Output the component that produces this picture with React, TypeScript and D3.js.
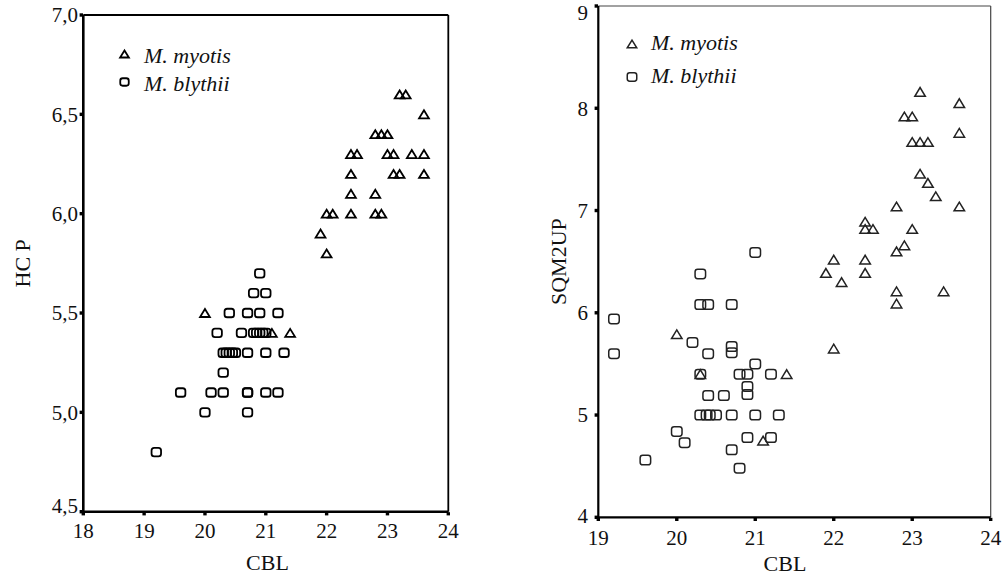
import React from "react";
import * as d3 from "d3";

// ---------- DATA ----------
// Left panel: HCP vs CBL
const hcpMyotis: [number, number][] = [
  [23.2, 6.6], [23.3, 6.6], [23.6, 6.5],
  [22.8, 6.4], [22.9, 6.4], [23.0, 6.4],
  [22.4, 6.3], [22.5, 6.3], [23.0, 6.3], [23.1, 6.3], [23.4, 6.3], [23.6, 6.3],
  [22.4, 6.2], [23.1, 6.2], [23.2, 6.2], [23.6, 6.2],
  [22.4, 6.1], [22.8, 6.1],
  [22.0, 6.0], [22.1, 6.0], [22.4, 6.0], [22.8, 6.0], [22.9, 6.0],
  [21.9, 5.9], [22.0, 5.8],
  [20.0, 5.5], [21.1, 5.4], [21.4, 5.4],
];
const hcpBlythii: [number, number][] = [
  [20.9, 5.7],
  [20.8, 5.6], [21.0, 5.6],
  [20.4, 5.5], [20.7, 5.5], [20.9, 5.5], [21.2, 5.5],
  [20.2, 5.4], [20.6, 5.4], [20.8, 5.4], [20.85, 5.4], [20.9, 5.4], [20.95, 5.4], [21.0, 5.4],
  [20.3, 5.3], [20.35, 5.3], [20.4, 5.3], [20.45, 5.3], [20.5, 5.3], [20.7, 5.3], [21.0, 5.3], [21.3, 5.3],
  [20.3, 5.2],
  [19.6, 5.1], [20.1, 5.1], [20.3, 5.1], [20.7, 5.1], [20.7, 5.1], [21.0, 5.1], [21.2, 5.1],
  [20.0, 5.0], [20.7, 5.0],
  [19.2, 4.8],
];

// Right panel: SQM2UP vs CBL
const sqmMyotis: [number, number][] = [
  [23.1, 8.16], [23.6, 8.05], [22.9, 7.92], [23.0, 7.92], [23.6, 7.76],
  [23.0, 7.67], [23.1, 7.67], [23.2, 7.67],
  [23.1, 7.36], [23.2, 7.27], [23.3, 7.14], [22.8, 7.04], [23.6, 7.04],
  [22.4, 6.89], [22.4, 6.82], [22.5, 6.82], [23.0, 6.82],
  [22.9, 6.66], [22.8, 6.6], [22.0, 6.52], [22.4, 6.52],
  [21.9, 6.39], [22.4, 6.39], [22.1, 6.3],
  [22.8, 6.21], [23.4, 6.21], [22.8, 6.09],
  [22.0, 5.65], [20.0, 5.79], [20.3, 5.4], [21.4, 5.4], [21.1, 4.75],
];
const sqmBlythii: [number, number][] = [
  [21.0, 6.59], [20.3, 6.38],
  [20.3, 6.08], [20.4, 6.08], [20.7, 6.08],
  [19.2, 5.94], [20.2, 5.71], [20.7, 5.67], [20.7, 5.61],
  [19.2, 5.6], [20.4, 5.6], [21.0, 5.5],
  [20.3, 5.4], [20.8, 5.4], [20.9, 5.4], [21.2, 5.4],
  [20.9, 5.28], [20.9, 5.2], [20.4, 5.19], [20.6, 5.19],
  [20.3, 5.0], [20.38, 5.0], [20.42, 5.0], [20.5, 5.0], [20.7, 5.0], [21.0, 5.0], [21.3, 5.0],
  [20.0, 4.84], [20.1, 4.73], [20.9, 4.78], [21.2, 4.78],
  [20.7, 4.66], [19.6, 4.56], [20.8, 4.48],
];

const legendLabels = ["M. myotis", "M. blythii"];
const leftXTicks = [18, 19, 20, 21, 22, 23, 24];
const leftYTicks = [4.5, 5.0, 5.5, 6.0, 6.5, 7.0];
const rightXTicks = [19, 20, 21, 22, 23, 24];
const rightYTicks = [4, 5, 6, 7, 8, 9];

const FONT = "'Liberation Serif', 'Times New Roman', serif";

type PanelProps = {
  x0: number; x1: number; y0: number; y1: number;
  xDomain: [number, number]; yDomain: [number, number];
  xTicks: number[]; yTicks: number[];
  yFmt: (v: number) => string;
  myotis: [number, number][]; blythii: [number, number][];
  yLabel: string; yLabelX: number;
  xLabelX: number; xLabelY: number;
  xTickY: number; yTickRight: number;
  bottomYLabelShift: number; topYLabelShift: number;
  mainStroke: number; thinStroke: number; thinColor: string;
  markW: number; markH: number; triW: number; triH: number;
  markStroke: number; markColor: string;
  legSymX: number; legTextX: number; legY: number[]; legSymDy: number;
};

function tri(cx: number, cy: number, w: number, h: number) {
  return `M${cx - w / 2},${cy + h / 2}L${cx + w / 2},${cy + h / 2}L${cx},${cy - h / 2}Z`;
}

function Panel(p: PanelProps) {
  const x = d3.scaleLinear().domain(p.xDomain).range([p.x0, p.x1]);
  const y = d3.scaleLinear().domain(p.yDomain).range([p.y1, p.y0]);
  const n = p.yTicks.length;
  return (
    <g>
      {/* frame */}
      <line x1={p.x0} x2={p.x1} y1={p.y0} y2={p.y0} stroke={p.thinColor} strokeWidth={p.thinStroke} />
      <line x1={p.x1} x2={p.x1} y1={p.y0} y2={p.y1} stroke={p.thinColor} strokeWidth={p.thinStroke} />
      <line x1={p.x0} x2={p.x0} y1={p.y0} y2={p.y1 + p.mainStroke / 2} stroke="#000" strokeWidth={p.mainStroke} />
      <line x1={p.x0} x2={p.x1} y1={p.y1} y2={p.y1} stroke="#000" strokeWidth={p.mainStroke} />
      {/* x ticks */}
      {p.xTicks.map((t) => (
        <g key={"xt" + t}>
          <rect x={x(t) - 1.7} y={p.y1 + 0.5} width={3.4} height={3.2} fill="#000" />
          <text x={x(t)} y={p.xTickY} textAnchor="middle" fontFamily={FONT} fontSize={21} fill="#111">{t}</text>
        </g>
      ))}
      {/* y ticks */}
      {p.yTicks.map((t, i) => (
        <g key={"yt" + t}>
          <rect x={p.x0 - 3.7} y={y(t) - 1.7} width={3.4} height={3.4} fill="#000" />
          <text x={p.yTickRight}
            y={y(t) + (i === 0 ? p.bottomYLabelShift : 0) + (i === n - 1 ? p.topYLabelShift : 0)}
            dy="0.35em" textAnchor="end" fontFamily={FONT} fontSize={21} fill="#111">{p.yFmt(t)}</text>
        </g>
      ))}
      {/* axis labels */}
      <text x={p.xLabelX} y={p.xLabelY} textAnchor="middle" fontFamily={FONT} fontSize={22} fill="#111">CBL</text>
      <text transform={`translate(${p.yLabelX},${(p.y0 + p.y1) / 2}) rotate(-90)`} textAnchor="middle" fontFamily={FONT} fontSize={22} fill="#111">{p.yLabel}</text>
      {/* points */}
      {p.blythii.map(([a, b], i) => (
        <rect key={"b" + i} x={x(a) - p.markW / 2} y={y(b) - p.markH / 2} width={p.markW} height={p.markH}
          rx={2.6} ry={2.6} fill="none" stroke={p.markColor} strokeWidth={p.markStroke} />
      ))}
      {p.myotis.map(([a, b], i) => (
        <path key={"m" + i} d={tri(x(a), y(b), p.triW, p.triH)} fill="none" stroke={p.markColor}
          strokeWidth={p.markStroke} strokeLinejoin="miter" />
      ))}
      {/* legend */}
      <path d={tri(p.legSymX, p.legY[0] - p.legSymDy, p.triW - 1, p.triH - 1)} fill="none" stroke={p.markColor} strokeWidth={p.markStroke} />
      <rect x={p.legSymX - (p.markW - 1) / 2} y={p.legY[1] - p.legSymDy - (p.markH - 1) / 2} width={p.markW - 1} height={p.markH - 1}
        rx={2.4} ry={2.4} fill="none" stroke={p.markColor} strokeWidth={p.markStroke} />
      {legendLabels.map((l, i) => (
        <text key={l} x={p.legTextX} y={p.legY[i]} fontFamily={FONT} fontStyle="italic" fontSize={22} fill="#111">{l}</text>
      ))}
    </g>
  );
}

const commaFmt = (v: number) => d3.format(".1f")(v).replace(".", ",");
const intFmt = (v: number) => String(v);

export default function App() {
  return (
    <svg width={1005} height={577} viewBox="0 0 1005 577"
      style={{ position: "absolute", left: 0, top: 0, background: "#fff", display: "block" }}>
      <rect x={0} y={0} width={1005} height={577} fill="#fff" />
      <Panel
        x0={83.3} x1={448.3} y0={15} y1={511.7}
        xDomain={[18, 24]} yDomain={[4.5, 7.0]}
        xTicks={leftXTicks} yTicks={leftYTicks} yFmt={commaFmt}
        myotis={hcpMyotis} blythii={hcpBlythii}
        yLabel="HC P" yLabelX={30}
        xLabelX={267.5} xLabelY={570}
        xTickY={538} yTickRight={78}
        bottomYLabelShift={-6} topYLabelShift={0}
        mainStroke={2.6} thinStroke={1.8} thinColor="#000"
        markW={9.5} markH={8.5} triW={9.8} triH={8}
        markStroke={1.8} markColor="#000"
        legSymX={124.5} legTextX={144} legY={[63, 91]} legSymDy={9}
      />
      <Panel
        x0={598.3} x1={990.7} y0={6} y1={517.3}
        xDomain={[19, 24]} yDomain={[4, 9]}
        xTicks={rightXTicks} yTicks={rightYTicks} yFmt={intFmt}
        myotis={sqmMyotis} blythii={sqmBlythii}
        yLabel="SQM2UP" yLabelX={566}
        xLabelX={785} xLabelY={571}
        xTickY={545} yTickRight={588}
        bottomYLabelShift={-2} topYLabelShift={6.5}
        mainStroke={2.2} thinStroke={1.2} thinColor="#444"
        markW={10.5} markH={9.5} triW={10.5} triH={8.7}
        markStroke={1.5} markColor="#222"
        legSymX={632} legTextX={651} legY={[50, 83]} legSymDy={6}
      />
    </svg>
  );
}
